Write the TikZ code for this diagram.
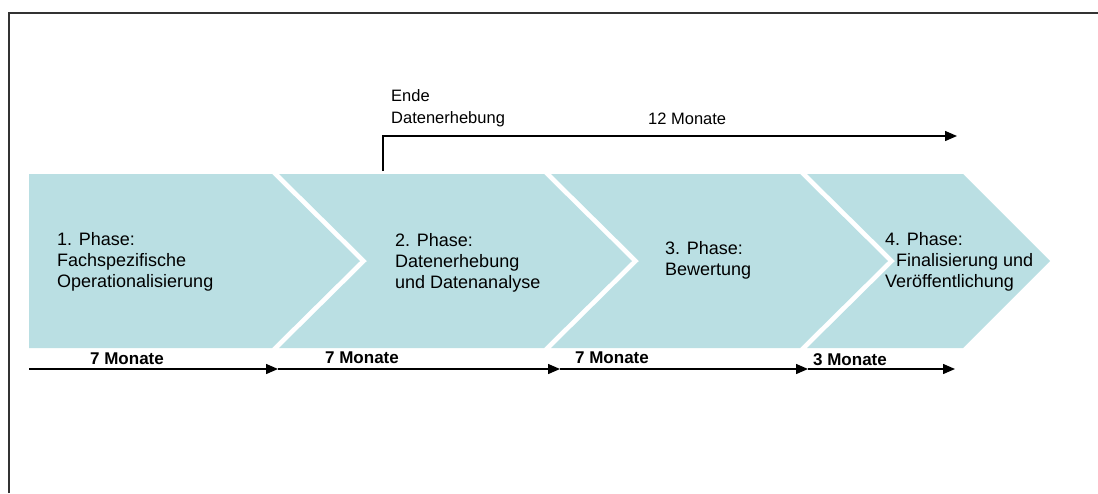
\documentclass[tikz,border=0pt]{standalone}
\usepackage{fontspec}
\setmainfont{Liberation Sans}
\usetikzlibrary{arrows.meta}

\definecolor{phasefill}{RGB}{186,223,227}

\tikzset{
  phasetext/.style={align=left, anchor=west, inner sep=0pt, font=\fontsize{18}{21}\selectfont},
  toptext/.style={align=left, anchor=west, inner sep=0pt, font=\fontsize{16.5}{22}\selectfont},
  durlabel/.style={inner sep=0pt, font=\fontsize{17}{20}\selectfont\bfseries},
  timearrow/.style={line width=1.4pt, -{Triangle[length=12pt,width=10pt]}},
}

\begin{document}
\begin{tikzpicture}[x=1pt,y=-1pt]
	\useasboundingbox (0,0) rectangle (1098,493);
	% frame
	\draw[line width=2pt, black!80] (9,493) -- (9,12.5) -- (1098,12.5);
	
	% chevrons
	\fill[phasefill] (29,174) -- (272,174) -- (360,261) -- (272,348) -- (29,348) -- cycle;
	\fill[phasefill] (279,174) -- (544,174) -- (632,261) -- (544,348) -- (279,348) -- (367,261) -- cycle;
	\fill[phasefill] (551,174) -- (800,174) -- (888,261) -- (800,348) -- (551,348) -- (639,261) -- cycle;
	\fill[phasefill] (807,174) -- (963,174) -- (1050,261) -- (963,348) -- (807,348) -- (895,261) -- cycle;
	
	\node[phasetext] (phase1) at (57,262) {1. Phase:\\Fachspezifische\\Operationalisierung};
	\node[phasetext] (phase2) at (395,263) {2. Phase:\\Datenerhebung\\und Datenanalyse};
	\node[phasetext] (phase3) at (665,260) {3. Phase:\\Bewertung};
	\node[phasetext] (phase4) at (885,262) {4. Phase:\\\hspace*{11pt}Finalisierung und\\Veröffentlichung};
	
	% 12 Monate nach Ende der Datenerhebung
	\coordinate (endstart) at (383,171);
	\coordinate (endstop) at (957,136);
	\draw[timearrow] (endstart) |- (endstop);
	\node[toptext] (endlabel) at (391,108) {Ende\\Datenerhebung};
	\node[toptext] (twelve) at (648,119) {12 Monate};
	
	% Zeitachse
	\coordinate (t0) at (29,369);
	\coordinate (t1) at (278,369);
	\coordinate (t2) at (560,369);
	\coordinate (t3) at (808,369);
	\coordinate (t4) at (955,369);
	\draw[timearrow] (t0) -- (t1);
	\draw[timearrow] (t1) -- (t2);
	\draw[timearrow] (t2) -- (t3);
	\draw[timearrow] (t3) -- (t4);
	
	\node[durlabel] (dur1) at (127,359) {7 Monate};
	\node[durlabel] (dur2) at (362,358) {7 Monate};
	\node[durlabel] (dur3) at (612,358) {7 Monate};
	\node[durlabel] (dur4) at (850,360) {3 Monate};
\end{tikzpicture}
\end{document}
